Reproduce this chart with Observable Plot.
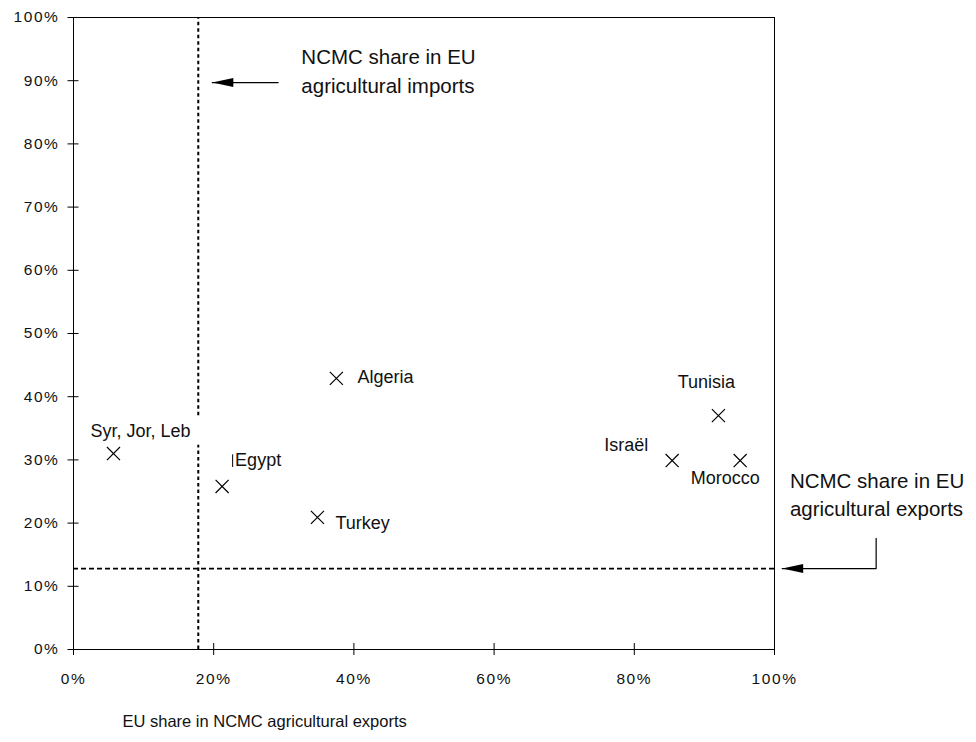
<!DOCTYPE html>
<html><head><meta charset="utf-8">
<script src="https://cdn.jsdelivr.net/npm/d3@7"></script>
<script src="https://cdn.jsdelivr.net/npm/@observablehq/plot@0.6"></script>
<style>
body{margin:0;background:#fff;}
#chart svg{display:block;}
</style></head><body><div id="chart"></div>
<script>
// ---- data ----
const countries = ["Syr, Jor, Leb", "Egypt", "Turkey", "Algeria", "Israël", "Tunisia", "Morocco"];
const euShareInNcmcExports = [0.057, 0.212, 0.348, 0.375, 0.854, 0.920, 0.951];
const yShare = [0.310, 0.258, 0.209, 0.429, 0.299, 0.370, 0.299];
const ncmcShareInEuImports = 0.178;   // vertical reference line
const ncmcShareInEuExports = 0.128;   // horizontal reference line
const xTicks = [0, 0.2, 0.4, 0.6, 0.8, 1];
const yTicks = [0, 0.1, 0.2, 0.3, 0.4, 0.5, 0.6, 0.7, 0.8, 0.9, 1];
const xTitle = "EU share in NCMC agricultural exports";
const importsNote = "NCMC share in EU\nagricultural imports";
const exportsNote = "NCMC share in EU\nagricultural exports";

// ---- label placement (pixels) ----
const labelPlacement = {
  "Syr, Jor, Leb": {dx: 27, dy: -22, anchor: "middle"},
  "Egypt": {dx: 13, dy: -26, anchor: "start"},
  "Turkey": {dx: 18, dy: 6, anchor: "start"},
  "Algeria": {dx: 21, dy: -1, anchor: "start"},
  "Israël": {dx: -24, dy: -15, anchor: "end"},
  "Tunisia": {dx: -12, dy: -33, anchor: "middle"},
  "Morocco": {dx: -15, dy: 18, anchor: "middle"}
};

const points = countries.map((c, i) => ({name: c, x: euShareInNcmcExports[i], y: yShare[i]}));

// vertical reference line is interrupted behind the "Syr, Jor, Leb" label
const importsLineSegments = [{y1: 0, y2: 0.323}, {y1: 0.37, y2: 1}];

// filled left-pointing arrowhead with its tip at the symbol origin
const leftHead = {draw(ctx) { ctx.moveTo(0, 0); ctx.lineTo(21, -4.5); ctx.lineTo(21, 4.5); ctx.closePath(); }};

const pct = d3.format(".0%");
const font = "'Liberation Sans', Arial, Helvetica, sans-serif";

const importsArrow = [{x: 0.292, y: 0.897}, {x: 0.198, y: 0.897}];
const exportsArrow = [{x: 1.145, y: 0.176}, {x: 1.145, y: ncmcShareInEuExports}, {x: 1.011, y: ncmcShareInEuExports}];

const chart = Plot.plot({
  width: 976,
  height: 742,
  marginLeft: 73,
  marginRight: 202,
  marginTop: 17,
  marginBottom: 93,
  x: {domain: [0, 1], label: null},
  y: {domain: [0, 1], label: null},
  style: {fontFamily: font, color: "black", background: "white"},
  marks: [
    Plot.frame({stroke: "black"}),
    // ticks straddling the axes
    Plot.axisX(xTicks, {tickSize: 12, dy: -6, tickFormat: () => "", stroke: "black", label: null}),
    Plot.axisY(yTicks, {tickSize: 11, dx: 5.5, tickFormat: () => "", stroke: "black", label: null}),
    Plot.axisX(xTicks, {tickSize: 0, tickPadding: 23, tickFormat: pct, fontSize: 15.5, fill: "#111", label: null}),
    Plot.axisY(yTicks, {tickSize: 0, tickPadding: 14, tickFormat: pct, fontSize: 15.5, fill: "#111", label: null}),
    // reference lines
    Plot.ruleX(importsLineSegments, {x: () => ncmcShareInEuImports, y1: "y1", y2: "y2", stroke: "black", strokeWidth: 2, strokeDasharray: "3.5,3"}),
    Plot.ruleY([ncmcShareInEuExports], {x1: 0, x2: 1, stroke: "black", strokeWidth: 1.8, strokeDasharray: "5,3"}),
    // points
    Plot.dot(points, {x: "x", y: "y", symbol: "times", r: 6, stroke: "black", strokeWidth: 1.2}),
    // labels
    ...points.map(p => {
      const lp = labelPlacement[p.name];
      return Plot.text([p], {x: "x", y: "y", text: "name", dx: lp.dx, dy: lp.dy, textAnchor: lp.anchor,
        fontSize: 18, fill: "#111", ariaLabel: "point-label"});
    }),
    // Egypt leader tick
    Plot.ruleX([0.227], {y1: 0.288, y2: 0.308, stroke: "black", strokeWidth: 1}),
    // annotations
    Plot.line(importsArrow, {x: "x", y: "y", stroke: "black", strokeWidth: 1.2}),
    Plot.line(exportsArrow, {x: "x", y: "y", stroke: "black", strokeWidth: 1.2}),
    Plot.dot([importsArrow[1], exportsArrow[2]], {x: "x", y: "y", symbol: leftHead, fill: "black", stroke: null}),
    Plot.text([importsNote], {x: 0.325, y: 0.918, text: d => d, textAnchor: "start", lineAnchor: "middle", lineHeight: 1.4, fontSize: 20.5, fill: "#111"}),
    Plot.text([exportsNote], {x: 1.022, y: 0.248, text: d => d, textAnchor: "start", lineAnchor: "middle", lineHeight: 1.4, fontSize: 20.5, fill: "#111"}),
    // axis title
    Plot.text([xTitle], {frameAnchor: "bottom-left", dx: 49, dy: 72, text: d => d, textAnchor: "start", lineAnchor: "middle", fontSize: 16.5, fill: "#111"})
  ]
});

d3.select(chart).selectAll("g[aria-label='x-axis tick label'] text, g[aria-label='y-axis tick label'] text").style("letter-spacing", "1.6px");
d3.select(chart).selectAll("g[aria-label='point-label'] text").style("letter-spacing", "0.5px");
document.getElementById("chart").append(chart);
</script>
</body></html>
